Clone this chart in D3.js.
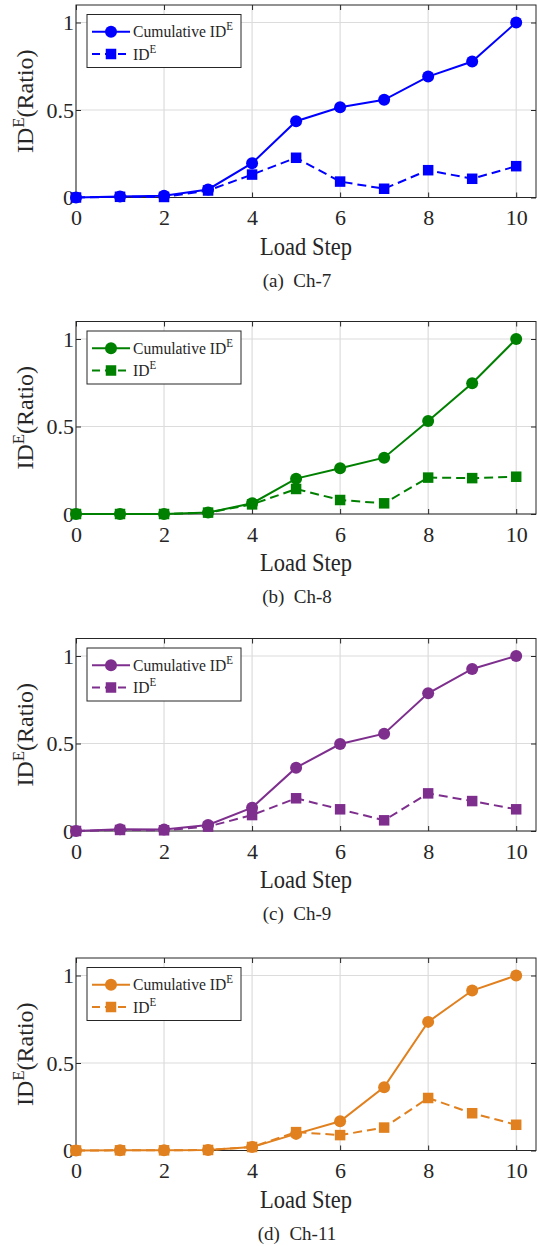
<!DOCTYPE html>
<html>
<head>
<meta charset="utf-8">
<script src="https://cdn.jsdelivr.net/npm/d3@7"></script>
<style>
  body { margin: 0; background: #fff; }
  svg text { font-family: 'Liberation Serif', 'Times New Roman', serif; fill: #262626; }
</style>
</head>
<body>
<script>
const width = 537
const height = 1246

// load steps on the x axis
const steps = [0, 1, 2, 3, 4, 5, 6, 7, 8, 9, 10]

const cumCh7 = [0, 0.006, 0.01, 0.046, 0.196, 0.436, 0.516, 0.558, 0.691, 0.777, 1.0]
const idCh7 = [0, 0.004, 0.003, 0.04, 0.131, 0.227, 0.091, 0.05, 0.156, 0.107, 0.179]

const cumCh8 = [0, 0, 0, 0.008, 0.061, 0.202, 0.261, 0.322, 0.531, 0.747, 1.0]
const idCh8 = [0, 0, 0, 0.008, 0.055, 0.143, 0.08, 0.061, 0.208, 0.205, 0.213]

const cumCh9 = [0, 0.01, 0.008, 0.034, 0.133, 0.362, 0.497, 0.556, 0.787, 0.926, 1.0]
const idCh9 = [0, 0.006, 0.004, 0.025, 0.091, 0.187, 0.124, 0.061, 0.215, 0.171, 0.124]

const cumCh11 = [0, 0.001, 0.001, 0.003, 0.02, 0.095, 0.167, 0.362, 0.735, 0.914, 1.0]
const idCh11 = [0, 0.001, 0.001, 0.003, 0.02, 0.105, 0.088, 0.131, 0.3, 0.213, 0.147]

const xTicks = [0, 2, 4, 6, 8, 10]
const yTicks = [0, 0.5, 1]
const captions = ['(a)  Ch-7', '(b)  Ch-8', '(c)  Ch-9', '(d)  Ch-11']
const colors = ['#0000ff', '#008000', '#7e2f8e', '#e0801f']

const panels = [
	{ cum: cumCh7, inc: idCh7 },
	{ cum: cumCh8, inc: idCh8 },
	{ cum: cumCh9, inc: idCh9 },
	{ cum: cumCh11, inc: idCh11 }
]

// layout
const panelTops = [5, 321.5, 638.5, 958]
const plotLeft = 76
const plotRight = 536
const plotH = 192.5
const sx = 0.9

const svg = d3.select('body')
	.append('svg')
	.attr('width', width)
	.attr('height', height)

const xScale = d3.scaleLinear()
	.domain([0, 10.45])
	.range([plotLeft, plotRight])

panels.forEach((p, i) => {
	const top = panelTops[i]
	const bottom = top + plotH
	const color = colors[i]

	const yScale = d3.scaleLinear()
		.domain([0, 1.1])
		.range([bottom, top])

	const g = svg.append('g')

	// grid
	g.selectAll('.gx')
		.data(xTicks)
		.enter()
		.append('line')
		.attr('x1', d => xScale(d))
		.attr('x2', d => xScale(d))
		.attr('y1', top)
		.attr('y2', bottom)
		.attr('stroke', '#dcdcdc')
		.attr('stroke-width', 1.2)
	g.selectAll('.gy')
		.data(yTicks)
		.enter()
		.append('line')
		.attr('x1', plotLeft)
		.attr('x2', plotRight)
		.attr('y1', d => yScale(d))
		.attr('y2', d => yScale(d))
		.attr('stroke', '#dcdcdc')
		.attr('stroke-width', 1.2)

	// axes
	const xAxis = d3.axisBottom(xScale)
		.tickValues(xTicks)
		.tickSizeInner(-5)
		.tickSizeOuter(0)
		.tickPadding(12)
	const yAxis = d3.axisLeft(yScale)
		.tickValues(yTicks)
		.tickFormat(d3.format('~g'))
		.tickSizeInner(-5)
		.tickSizeOuter(0)
		.tickPadding(2)

	const gx = g.append('g')
		.attr('transform', `translate(0,${bottom})`)
		.call(xAxis)
	const gy = g.append('g')
		.attr('transform', `translate(${plotLeft},0)`)
		.call(yAxis)
	g.append('g')
		.attr('transform', `translate(0,${top})`)
		.call(d3.axisTop(xScale).tickValues(xTicks).tickFormat('').tickSizeInner(-5).tickSizeOuter(0))
	g.append('g')
		.attr('transform', `translate(${plotRight},0)`)
		.call(d3.axisRight(yScale).tickValues(yTicks).tickFormat('').tickSizeInner(-5).tickSizeOuter(0))

	g.selectAll('.domain').remove()
	g.selectAll('.tick line').attr('stroke', '#262626')
	;[gx, gy].forEach(a => a.selectAll('text')
		.attr('font-size', 22)
		.attr('fill', '#262626'))

	g.append('rect')
		.attr('x', plotLeft)
		.attr('y', top)
		.attr('width', plotRight - plotLeft)
		.attr('height', plotH)
		.attr('fill', 'none')
		.attr('stroke', '#262626')
		.attr('stroke-width', 1)

	// axis titles
	g.append('text')
		.attr('transform', `translate(${(plotLeft + plotRight) / 2},${bottom + 57}) scale(${sx},1)`)
		.attr('text-anchor', 'middle')
		.attr('font-size', 25)
		.text('Load Step')

	const yl = g.append('text')
		.attr('transform', `translate(33,${(top + bottom) / 2}) rotate(-90)`)
		.attr('text-anchor', 'middle')
		.attr('font-size', 24)
	yl.append('tspan').text('ID')
	yl.append('tspan').attr('font-size', 17).attr('dy', -9).text('E')
	yl.append('tspan').attr('dy', 9).text('(Ratio)')

	g.append('text')
		.attr('x', 297)
		.attr('y', bottom + 89)
		.attr('text-anchor', 'middle')
		.attr('font-size', 19)
		.style('white-space', 'pre')
		.text(captions[i])

	// data
	const line = d3.line()
		.x((d, j) => xScale(steps[j]))
		.y(d => yScale(d))

	g.append('path')
		.attr('d', line(p.cum))
		.attr('fill', 'none')
		.attr('stroke', color)
		.attr('stroke-width', 2)
	g.selectAll('.dot')
		.data(p.cum)
		.enter()
		.append('circle')
		.attr('cx', (d, j) => xScale(steps[j]))
		.attr('cy', d => yScale(d))
		.attr('r', 6)
		.attr('fill', color)

	g.append('path')
		.attr('d', line(p.inc))
		.attr('fill', 'none')
		.attr('stroke', color)
		.attr('stroke-width', 2)
		.attr('stroke-dasharray', '9,5')
	g.selectAll('.sq')
		.data(p.inc)
		.enter()
		.append('rect')
		.attr('x', (d, j) => xScale(steps[j]) - 5.25)
		.attr('y', d => yScale(d) - 5.25)
		.attr('width', 10.5)
		.attr('height', 10.5)
		.attr('fill', color)

	// legend
	const lg = g.append('g')
		.attr('transform', `translate(87,${top + 9.5})`)
	lg.append('rect')
		.attr('width', 154)
		.attr('height', 53)
		.attr('fill', '#fff')
		.attr('stroke', '#262626')
		.attr('stroke-width', 1)

	const rows = [
		{ y: 17.2, label: 'Cumulative ID', dash: null, mark: 'circle' },
		{ y: 39.5, label: 'ID', dash: '8,5', mark: 'square' }
	]
	rows.forEach(r => {
		lg.append('line')
			.attr('x1', 5)
			.attr('x2', 43)
			.attr('y1', r.y)
			.attr('y2', r.y)
			.attr('stroke', color)
			.attr('stroke-width', 2)
			.attr('stroke-dasharray', r.dash)
		if (r.mark === 'circle') {
			lg.append('circle')
				.attr('cx', 24)
				.attr('cy', r.y)
				.attr('r', 6)
				.attr('fill', color)
		} else {
			lg.append('rect')
				.attr('x', 24 - 5.25)
				.attr('y', r.y - 5.25)
				.attr('width', 10.5)
				.attr('height', 10.5)
				.attr('fill', color)
		}
		const t = lg.append('text')
			.attr('transform', `translate(46,${r.y + 5.6}) scale(0.92,1)`)
			.attr('font-size', 17)
		t.append('tspan').text(r.label)
		t.append('tspan').attr('font-size', 12).attr('dy', -7).text('E')
	})
})
</script>
</body>
</html>
